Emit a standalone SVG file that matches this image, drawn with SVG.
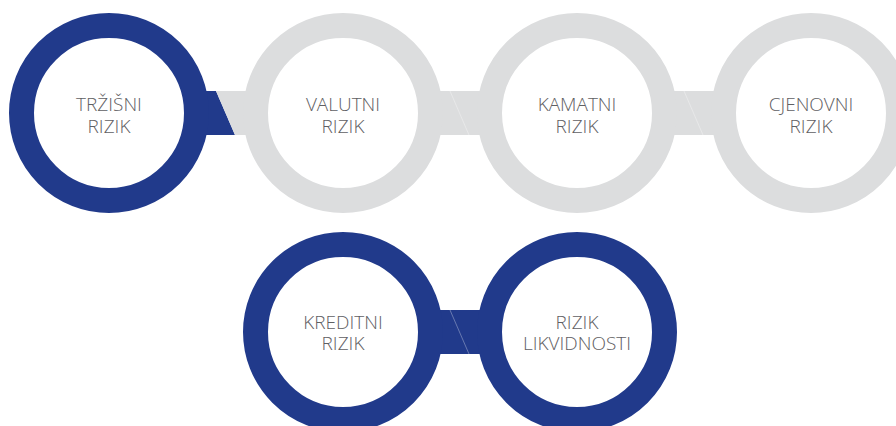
<svg xmlns="http://www.w3.org/2000/svg" width="896" height="426" viewBox="0 0 896 426">
<style>
.ring{fill:#ffffff;stroke-width:25}
.blue{stroke:#213a8b}
.gray{stroke:#dcddde}
.fb{fill:#213a8b}
.fg{fill:#dcddde}
.seam{stroke:#ffffff;stroke-opacity:0.45;stroke-width:0.7}
text{font-family:"Open Sans","Liberation Sans",sans-serif;font-weight:300;font-size:19px;fill:#5f6063;text-anchor:middle}
</style>
<rect width="896" height="426" fill="#ffffff"/>
<g id="connectors">
<polygon class="fb" points="195,91 216,91 235,135 195,135"/>
<polygon class="fg" points="216,91 255,91 255,135 235,135"/>
<polygon class="fg" points="430,91 490,91 490,135 430,135"/>
<line class="seam" x1="450" y1="91" x2="469" y2="135"/>
<polygon class="fg" points="664,91 724,91 724,135 664,135"/>
<line class="seam" x1="684" y1="91" x2="703" y2="135"/>
<polygon class="fb" points="430,310 490,310 490,354 430,354"/>
<line class="seam" x1="450" y1="310" x2="469" y2="354"/>
</g>
<g id="trzisni">
<circle class="ring blue" cx="109" cy="113" r="87.5"/>
<text x="109" y="111">TRŽIŠNI<tspan x="109" y="133">RIZIK</tspan></text>
</g>
<g id="valutni">
<circle class="ring gray" cx="343" cy="113" r="87.5"/>
<text x="343" y="111">VALUTNI<tspan x="343" y="133">RIZIK</tspan></text>
</g>
<g id="kamatni">
<circle class="ring gray" cx="577" cy="113" r="87.5"/>
<text x="577" y="111">KAMATNI<tspan x="577" y="133">RIZIK</tspan></text>
</g>
<g id="cjenovni">
<circle class="ring gray" cx="811" cy="113" r="87.5"/>
<text x="811" y="111">CJENOVNI<tspan x="811" y="133">RIZIK</tspan></text>
</g>
<g id="kreditni">
<circle class="ring blue" cx="343" cy="332" r="87.5"/>
<text x="343" y="329">KREDITNI<tspan x="343" y="350">RIZIK</tspan></text>
</g>
<g id="likvidnost">
<circle class="ring blue" cx="577" cy="332" r="87.5"/>
<text x="577" y="329">RIZIK<tspan x="577" y="350">LIKVIDNOSTI</tspan></text>
</g>
</svg>
